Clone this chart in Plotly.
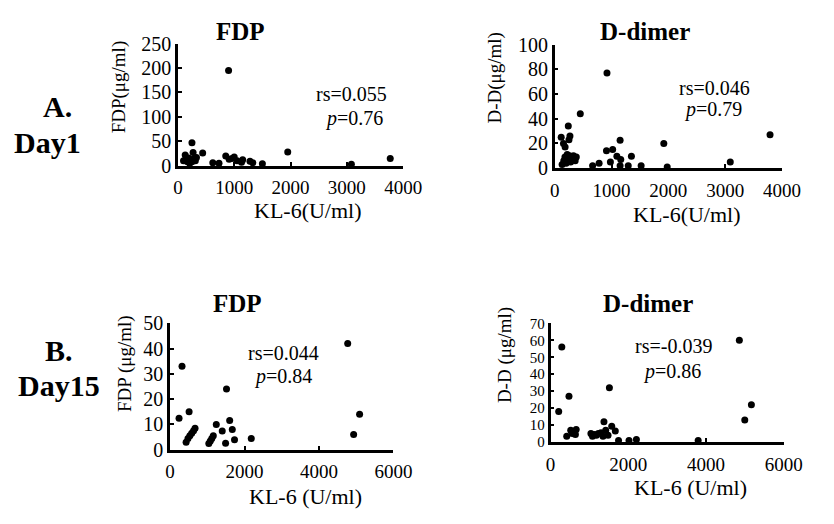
import plotly.graph_objects as go

# ---------------- Data ----------------
# Day 1 : KL-6 vs FDP
kl6_d1_fdp = [100, 130, 150, 170, 190, 210, 230, 250, 250, 270, 290, 310, 330, 440,
              620, 730, 850, 900, 910, 960, 1000, 1050, 1130, 1150, 1280, 1330, 1500,
              1950, 3080, 3770]
fdp_d1 = [10, 22, 14, 8, 16, 5, 12, 47, 8, 27, 15, 10, 17, 26,
          6, 5, 20, 195, 13, 15, 18, 10, 7, 12, 9, 6, 4,
          28, 3, 15]

# Day 1 : KL-6 vs D-dimer
kl6_d1_dd = [114, 154, 183, 239, 251, 268, 450,
             130, 160, 180, 200, 220, 240, 260, 280, 300, 330, 360, 380,
             667, 781, 911, 920, 980, 1020, 1094, 1151, 1151, 1162, 1294, 1350, 1521,
             1920, 1980, 3090, 3790]
dd_d1 = [25, 20, 17, 34, 23, 26, 44,
         3, 6, 9, 4, 11, 7, 10, 5, 8, 10, 6, 9,
         2, 4, 14, 77, 5, 15, 9.5, 22.5, 2, 7, 2, 9.5, 2,
         20, 1, 5, 27]

# Day 15 : KL-6 vs FDP
kl6_d15_fdp = [240, 320, 430, 480, 510, 530, 580, 630, 670,
               1040, 1080, 1120, 1160, 1240, 1400, 1490, 1515, 1600, 1670, 1730,
               2180, 4770, 4930, 5090]
fdp_d15 = [12.5, 33, 3, 4.5, 15, 5.5, 6.5, 7.5, 8.5,
           2.5, 3.5, 4.5, 5.5, 10, 7.4, 2.6, 24, 11.6, 8, 4,
           4.5, 42, 6, 14]

# Day 15 : KL-6 vs D-dimer
kl6_d15_dd = [210, 290, 417, 475, 520, 560, 600, 640, 660,
              1040, 1080, 1130, 1180, 1230, 1300, 1350, 1375, 1420, 1480, 1515,
              1575, 1667, 1750, 2020, 2210, 3800, 4860, 5000, 5170]
dd_d15 = [18, 56, 3.4, 27, 7, 5, 6, 4.5, 7.5,
          5, 3.5, 4.5, 4, 5, 5.5, 3.5, 12, 7, 4, 32,
          9.4, 6.6, 1, 1, 1.5, 1, 60, 13, 22]

panel_titles = ["FDP", "D-dimer", "FDP", "D-dimer"]
x_titles = ["KL-6(U/ml)", "KL-6(U/ml)", "KL-6 (U/ml)", "KL-6 (U/ml)"]
y_titles = ["FDP(\u03bcg/ml)", "D-D(\u03bcg/ml)", "FDP (\u03bcg/ml)", "D-D (\u03bcg/ml)"]
stats_rs = ["rs=0.055", "rs=0.046", "rs=0.044", "rs=-0.039"]
stats_p = ["0.76", "0.79", "0.84", "0.86"]
row_labels = ["A.", "Day1", "B.", "Day15"]

# ---------------- Layout helpers ----------------
W, H = 834, 524
FONT = "Liberation Serif, Times New Roman, serif"


def fx(px):
    return px / W


def fy(py):
    return 1 - py / H


panels = [
    dict(xs=(178, 410), ys=(161.5, 34), xr=[0, 4000], yr=[0, 250], xd=1000, yd=50,
         x=kl6_d1_fdp, y=fdp_d1, yfs=20),
    dict(xs=(566, 800), ys=(164, 35), xr=[0, 4000], yr=[0, 100], xd=1000, yd=20,
         x=kl6_d1_dd, y=dd_d1, yfs=20),
    dict(xs=(170, 400), ys=(458, 326), xr=[0, 6000], yr=[0, 50], xd=2000, yd=10,
         x=kl6_d15_fdp, y=fdp_d15, yfs=20),
    dict(xs=(561.7, 801.7), ys=(450, 326), xr=[0, 6000], yr=[0, 70], xd=2000, yd=10,
         x=kl6_d15_dd, y=dd_d15, yfs=15),
]

fig = go.Figure()
layout = dict(
    width=W, height=H,
    margin=dict(l=0, r=0, t=0, b=0),
    paper_bgcolor="white", plot_bgcolor="white",
    showlegend=False,
    font=dict(family=FONT, color="black", size=18),
)

for i, p in enumerate(panels):
    n = "" if i == 0 else str(i + 1)
    fig.add_trace(go.Scatter(
        x=p["x"], y=p["y"], mode="markers",
        marker=dict(color="black", size=7),
        xaxis="x" + n, yaxis="y" + n, cliponaxis=False,
    ))
    axis_common = dict(
        showline=True, linecolor="black", linewidth=2.5,
        ticks="inside", ticklen=4, tickwidth=2, tickcolor="black",
        showgrid=False, zeroline=False,
    )
    layout["xaxis" + n] = dict(
        axis_common, domain=[fx(p["xs"][0]), fx(p["xs"][1])], range=p["xr"],
        dtick=p["xd"], tick0=0, anchor="y" + n, ticklabelstandoff=3,
        tickfont=dict(family=FONT, size=19, color="black"),
    )
    layout["yaxis" + n] = dict(
        axis_common, domain=[fy(p["ys"][0]), fy(p["ys"][1])], range=p["yr"],
        dtick=p["yd"], tick0=0, anchor="x" + n, ticklabelstandoff=0,
        tickfont=dict(family=FONT, size=p["yfs"], color="black"),
    )

annotations = []


def add_text(text, px, py, size=18, bold=False, angle=0):
    t = f"<b>{text}</b>" if bold else text
    annotations.append(dict(
        text=t, x=fx(px), y=fy(py), xref="paper", yref="paper",
        xanchor="center", yanchor="middle", showarrow=False, textangle=angle,
        font=dict(family=FONT, size=size, color="black"), borderpad=0,
    ))


# panel titles
title_pos = [(242, 21), (659, 21), (239, 305), (662, 305)]
for t, (px, py) in zip(panel_titles, title_pos):
    add_text(t, px, py, size=25, bold=True)

# x axis titles
xt_pos = [(312, 208), (702, 212), (309, 507), (706, 497)]
for t, (px, py) in zip(x_titles, xt_pos):
    add_text(t, px, py, size=22)

# y axis titles
yt_pos = [(117, 79), (505, 70), (123, 368), (515, 359)]
for t, (px, py) in zip(y_titles, yt_pos):
    add_text(t, px, py, size=19, angle=-90)

# statistics
rs_pos = [(357, 87), (731, 80), (287, 357), (688, 350)]
p_pos = [(359, 112), (729, 103), (286, 381), (687, 376)]
for t, (px, py) in zip(stats_rs, rs_pos):
    add_text(t, px, py, size=20)
for t, (px, py) in zip(stats_p, p_pos):
    add_text(f"<i>p</i>={t}", px, py, size=20)

# row labels
row_pos = [(54, 100), (44, 137), (56, 354), (56, 391)]
for t, (px, py) in zip(row_labels, row_pos):
    add_text(t, px, py, size=30, bold=True)

layout["annotations"] = annotations
fig.update_layout(**layout)
fig.write_html("out.html")
